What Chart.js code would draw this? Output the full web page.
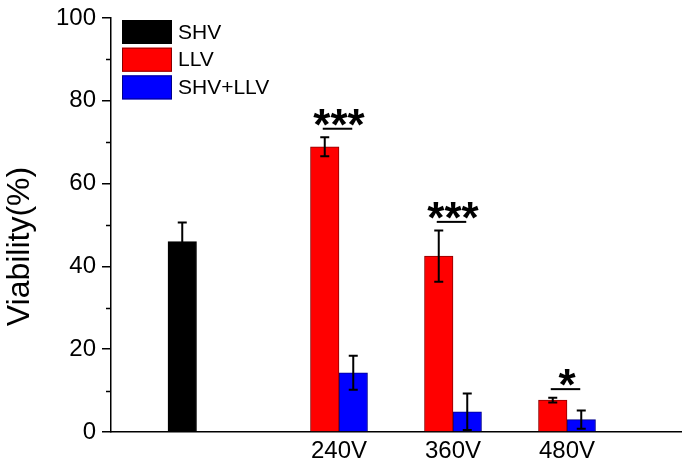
<!DOCTYPE html>
<html>
<head>
<meta charset="utf-8">
<script src="https://cdn.jsdelivr.net/npm/chart.js@4.4.1/dist/chart.umd.min.js"></script>
<style>
  html, body { margin: 0; padding: 0; background: #fff; }
  #wrap { width: 685px; height: 463px; }
</style>
</head>
<body>
<div id="wrap"><canvas id="c" width="685" height="463"></canvas></div>
<script>
// ---- data ----
const categories = ['', '240V', '360V', '480V'];
const groupX = [75, 240, 360, 480];          // x value of each group on the numeric axis
const seriesNames = ['SHV', 'LLV', 'SHV+LLV'];
const shvValues = [46.0, null, null, null];
const shvErrors = [4.6, null, null, null];
const llvValues = [null, 68.9, 42.5, 7.7];
const llvErrors = [null, 2.3, 6.2, 0.6];
const comboValues = [null, 14.3, 4.9, 3.0];
const comboErrors = [null, 4.1, 4.4, 2.2];
const sigMarks = ['', '***', '***', '*'];
const yTickValues = [0, 20, 40, 60, 80, 100];
const yMinorTickValues = [10, 30, 50, 70, 90];
const yTitle = 'Viability(%)';

const FONT = "'Liberation Sans', Arial, sans-serif";

function toPoints(vals) {
  return vals.map((v, i) => ({ x: groupX[i], y: v }));
}

const errorSets = [shvErrors, llvErrors, comboErrors];
const valueSets = [shvValues, llvValues, comboValues];

const errorBarPlugin = {
  id: 'errorBars',
  afterDatasetsDraw(chart) {
    const ctx = chart.ctx;
    const y = chart.scales.y;
    ctx.save();
    ctx.strokeStyle = '#000';
    ctx.lineWidth = 2;
    chart.data.datasets.forEach((ds, d) => {
      const meta = chart.getDatasetMeta(d);
      valueSets[d].forEach((v, i) => {
        if (v === null) return;
        const e = errorSets[d][i];
        const bar = meta.data[i];
        const x = bar.x;
        const yt = y.getPixelForValue(v + e);
        const yb = y.getPixelForValue(Math.max(v - e, 0));
        ctx.beginPath();
        ctx.moveTo(x, yt); ctx.lineTo(x, yb);
        ctx.moveTo(x - 4.5, yt); ctx.lineTo(x + 4.5, yt);
        ctx.moveTo(x - 4.5, yb); ctx.lineTo(x + 4.5, yb);
        ctx.stroke();
      });
    });
    // significance marks
    const m1 = chart.getDatasetMeta(1), m2 = chart.getDatasetMeta(2);
    sigMarks.forEach((mark, i) => {
      if (!mark) return;
      const x1 = m1.data[i].x, x2 = m2.data[i].x;
      const top = Math.min(
        y.getPixelForValue(llvValues[i] + llvErrors[i]),
        y.getPixelForValue(comboValues[i] + comboErrors[i]));
      const ly = top - 8.5;
      ctx.beginPath();
      ctx.lineWidth = 2;
      ctx.moveTo(x1 - 2, ly); ctx.lineTo(x2 - 1, ly);
      ctx.stroke();
      ctx.fillStyle = '#000';
      ctx.font = 'bold 44px ' + FONT;
      ctx.textAlign = 'center';
      ctx.textBaseline = 'alphabetic';
      ctx.fillText(mark, (x1 + x2) / 2, ly + 11);
    });
    ctx.restore();
  },
  afterDraw(chart) {
    const ctx = chart.ctx;
    const y = chart.scales.y;
    const left = chart.chartArea.left;
    ctx.save();
    // minor ticks on y axis
    ctx.strokeStyle = '#000';
    ctx.lineWidth = 1.5;
    yMinorTickValues.forEach(v => {
      const py = Math.round(y.getPixelForValue(v)) + 0.5;
      ctx.beginPath();
      ctx.moveTo(left - 5, py); ctx.lineTo(left, py);
      ctx.stroke();
    });
    // y-axis title
    ctx.save();
    ctx.translate(28.5, 246.5);
    ctx.rotate(-Math.PI / 2);
    ctx.fillStyle = '#000';
    ctx.font = '32px ' + FONT;
    ctx.textAlign = 'center';
    ctx.textBaseline = 'alphabetic';
    ctx.fillText(yTitle, 0, 0);
    ctx.restore();
    // legend
    const lx = left + 11, ly0 = chart.chartArea.top + 2;
    chart.data.datasets.forEach((ds, d) => {
      const by = ly0 + d * 27.7;
      ctx.fillStyle = ds.backgroundColor;
      ctx.fillRect(lx, by, 50, 24);
      ctx.strokeStyle = ds.borderColor;
      ctx.lineWidth = 1;
      ctx.strokeRect(lx + 0.5, by + 0.5, 49, 23);
      ctx.fillStyle = '#000';
      ctx.font = '21px ' + FONT;
      ctx.textAlign = 'left';
      ctx.textBaseline = 'middle';
      ctx.fillText(ds.label, lx + 56, by + 13);
    });
    ctx.restore();
  }
};

const barCommon = { barThickness: 28.5, borderWidth: 1, skipNull: true, grouped: true };

new Chart(document.getElementById('c'), {
  type: 'bar',
  data: {
    datasets: [
      Object.assign({ label: seriesNames[0], data: toPoints(shvValues), backgroundColor: '#000000', borderColor: '#000000' }, barCommon),
      Object.assign({ label: seriesNames[1], data: toPoints(llvValues), backgroundColor: '#FF0000', borderColor: '#8a0000' }, barCommon),
      Object.assign({ label: seriesNames[2], data: toPoints(comboValues), backgroundColor: '#0000FF', borderColor: '#00008a' }, barCommon)
    ]
  },
  options: {
    responsive: false,
    animation: false,
    devicePixelRatio: 1,
    layout: { padding: { left: 0, top: 17, right: 4, bottom: 0 } },
    plugins: { legend: { display: false }, tooltip: { enabled: false } },
    scales: {
      x: {
        type: 'linear',
        min: 0, max: 600,
        offset: false,
        grid: { display: false, offset: false },
        border: { display: true, color: '#000', width: 1.5 },
        afterBuildTicks(scale) {
          scale.ticks = groupX.filter((v, i) => categories[i]).map(v => ({ value: v }));
        },
        afterFit(scale) { scale.height = 31; },
        ticks: {
          autoSkip: false,
          maxRotation: 0,
          padding: -3,
          color: '#000',
          font: { family: FONT, size: 24 },
          callback: (value) => categories[groupX.indexOf(value)]
        }
      },
      y: {
        min: 0, max: 100,
        afterBuildTicks(scale) { scale.ticks = yTickValues.map(v => ({ value: v })); },
        afterFit(scale) { scale.width = 111; },
        grid: { drawOnChartArea: false, drawTicks: true, tickLength: 9, color: '#000', lineWidth: 1.5 },
        border: { display: true, color: '#000', width: 1.5 },
        ticks: { padding: 6, color: '#000', font: { family: FONT, size: 24, lineHeight: 1 } },
        title: { display: false }
      }
    }
  },
  plugins: [errorBarPlugin]
});
</script>
</body>
</html>
